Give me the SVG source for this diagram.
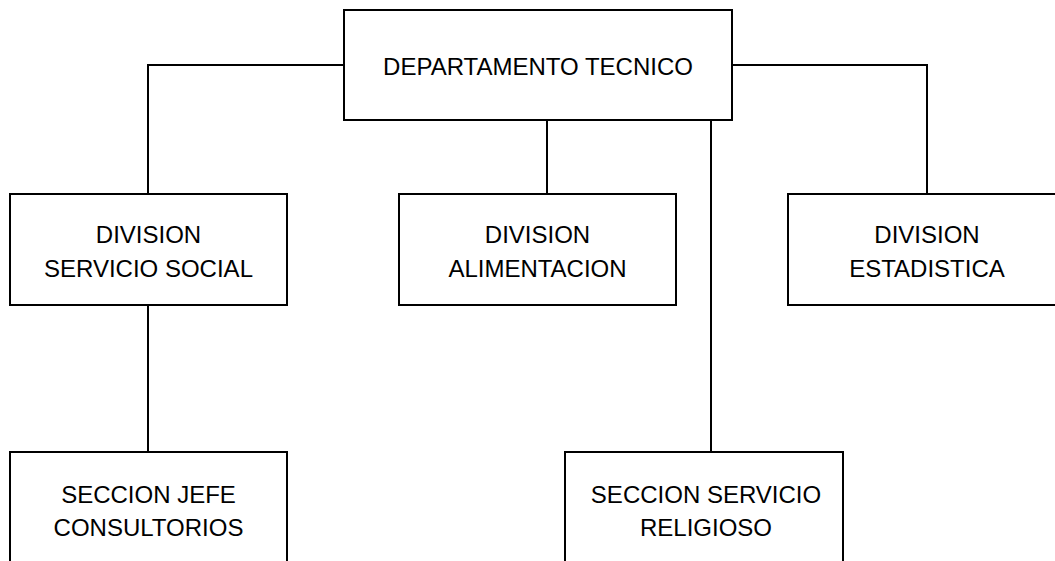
<svg xmlns="http://www.w3.org/2000/svg" width="1055" height="561" viewBox="0 0 1055 561">
<style>
.box{fill:#fff;stroke:#000;stroke-width:2}
.ln{fill:none;stroke:#000;stroke-width:2}
text{font-family:"Liberation Sans",Arial,sans-serif;font-size:24px;fill:#000;text-anchor:middle}
</style>
<rect width="1055" height="561" fill="#fff"/>
<g id="connectors">
<path class="ln" d="M344 65 H148 V194"/>
<path class="ln" d="M732 65 H927 V194"/>
<path class="ln" d="M547 120 V194"/>
<path class="ln" d="M711 120 V452"/>
<path class="ln" d="M148 305 V452"/>
</g>
<g id="n-depto"><rect class="box" x="344" y="10" width="388" height="110"/><text x="538" y="75">DEPARTAMENTO TECNICO</text></g>
<g id="n-social"><rect class="box" x="10" y="194" width="277" height="111"/><text x="148.5" y="243">DIVISION</text><text x="148.5" y="277">SERVICIO SOCIAL</text></g>
<g id="n-alim"><rect class="box" x="399" y="194" width="277" height="111"/><text x="537.5" y="243">DIVISION</text><text x="537.5" y="277">ALIMENTACION</text></g>
<g id="n-estad"><rect class="box" x="788" y="194" width="278" height="111"/><text x="927" y="243">DIVISION</text><text x="927" y="277">ESTADISTICA</text></g>
<g id="n-jefe"><rect class="box" x="10" y="452" width="277" height="120"/><text x="148.5" y="503">SECCION JEFE</text><text x="148.5" y="536">CONSULTORIOS</text></g>
<g id="n-relig"><rect class="box" x="565" y="452" width="278" height="120"/><text x="706" y="503">SECCION SERVICIO</text><text x="706" y="536">RELIGIOSO</text></g>
</svg>
